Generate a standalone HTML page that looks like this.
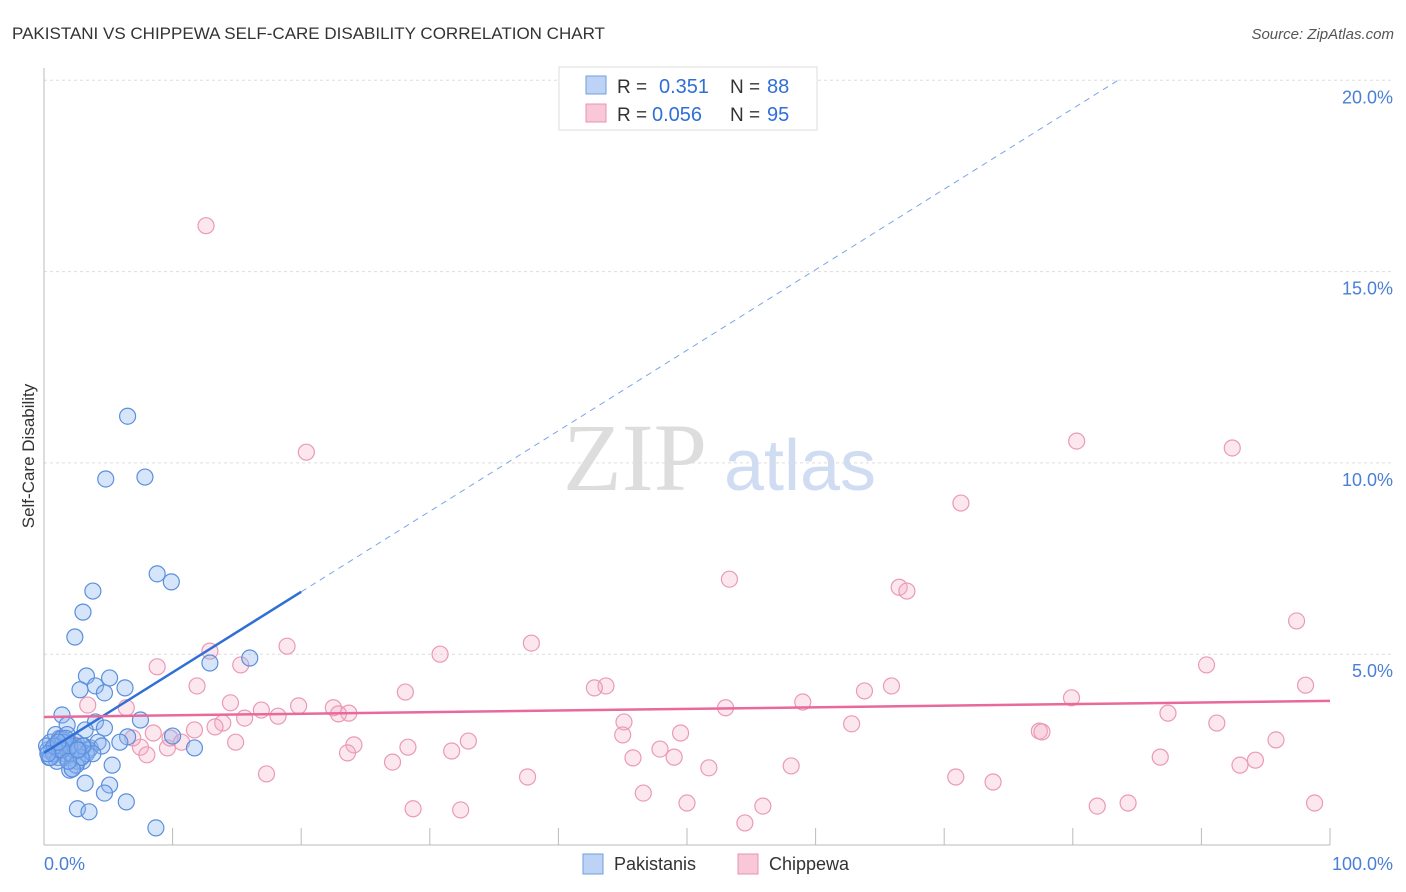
<!DOCTYPE html>
<html><head><meta charset="utf-8"><style>
body{margin:0;background:#fff;font-family:"Liberation Sans",sans-serif;}
</style></head><body>
<svg width="1406" height="892" viewBox="0 0 1406 892" style="display:block">
<text x="12" y="39" font-size="17" fill="#333">PAKISTANI VS CHIPPEWA SELF-CARE DISABILITY CORRELATION CHART</text>
<text x="1394" y="39" font-size="15" fill="#555" font-style="italic" text-anchor="end">Source: ZipAtlas.com</text>
<text x="635" y="490" font-size="96" fill="#ddd" font-family="Liberation Serif" text-anchor="middle">ZIP</text>
<text x="800" y="490" font-size="72" fill="#cfdcf2" text-anchor="middle">atlas</text>
<g id="grid"></g>
<g id="axes"></g>
<g id="points"></g>
<g id="lines"></g>
<text transform="translate(34,456) rotate(-90)" font-size="17" fill="#333" text-anchor="middle">Self-Care Disability</text>
<g>
<rect x="559" y="67" width="258" height="63" fill="#fff" stroke="#ddd"/>
<rect x="586" y="76" width="20" height="18" fill="#bcd3f5" stroke="#6f9de0"/>
<rect x="586" y="104" width="20" height="18" fill="#f9c8d8" stroke="#e893b0"/>
<text x="617" y="93" font-size="19" fill="#333">R =</text>
<text x="659" y="93" font-size="20" fill="#2f6fd6">0.351</text>
<text x="730" y="93" font-size="19" fill="#333">N =</text>
<text x="767" y="93" font-size="20" fill="#2f6fd6">88</text>
<text x="617" y="121" font-size="19" fill="#333">R =</text>
<text x="652" y="121" font-size="20" fill="#2f6fd6">0.056</text>
<text x="730" y="121" font-size="19" fill="#333">N =</text>
<text x="767" y="121" font-size="20" fill="#2f6fd6">95</text>
</g>
<g>
<rect x="583" y="854" width="20" height="20" fill="#bcd3f5" stroke="#6f9de0"/>
<text x="614" y="870" font-size="18" fill="#333">Pakistanis</text>
<rect x="738" y="854" width="20" height="20" fill="#f9c8d8" stroke="#e893b0"/>
<text x="769" y="870" font-size="18" fill="#333">Chippewa</text>
</g>
</svg>
<script>
const yTicks=[5,10,15,20];
const yTickLabels=["5.0%","10.0%","15.0%","20.0%"];
const xTicks=[0,10,20,30,40,50,60,70,80,90,100];
const blueX=[6.5,4.8,7.85,8.8,9.9,3.8,3.03,2.4,12.9,16.0,3.3,5.1,2.8,4.0,4.7,6.3,1.4,7.5,4.0,1.8,3.2,4.7,10.0,6.5,5.9,11.7,3.6,5.3,2.0,3.2,5.1,4.7,6.4,2.6,3.5,8.7,
0.3,0.5,0.8,1.0,1.2,1.5,1.7,2.0,2.2,2.5,2.8,3.0,0.4,0.9,1.3,1.6,1.9,2.3,2.6,3.1,0.6,1.1,1.4,2.1,2.4,2.9,3.5,4.2,0.2,0.7,1.8,2.7,1.0,1.5,2.2,3.3,4.5,0.5,1.2,2.0,1.7,2.5,3.8,0.8,1.4,2.9,1.1,2.2,3.0,0.3,1.9,2.6];
const blueY=[11.22,9.58,9.63,7.1,6.89,6.65,6.1,5.45,4.77,4.9,4.43,4.38,4.07,4.17,3.99,4.12,3.41,3.28,3.23,3.15,3.02,3.07,2.86,2.84,2.7,2.55,2.55,2.1,1.97,1.63,1.58,1.37,1.14,0.96,0.88,0.46,
2.5,2.7,2.4,2.6,2.8,2.5,2.3,2.6,2.4,2.7,2.5,2.2,2.3,2.9,2.6,2.4,2.7,2.5,2.2,2.6,2.5,2.3,2.8,2.4,2.6,2.3,2.5,2.7,2.6,2.4,2.9,2.5,2.2,2.7,2.0,2.4,2.6,2.3,2.5,2.6,2.8,2.1,2.4,2.6,2.5,2.3,2.7,2.0,2.6,2.4,2.2,2.5];
const pinkX=[12.6,20.4,80.3,92.4,71.3,53.3,66.5,67.1,97.4,37.9,18.9,12.9,30.8,8.8,15.3,90.4,98.1,11.9,43.7,42.8,65.9,63.8,28.1,79.9,14.5,59.0,19.8,6.4,16.9,22.5,53.0,87.4,23.7,22.9,18.2,15.6,3.4,13.9,13.3,45.1,62.8,91.2,11.7,8.5,77.4,77.6,45.0,49.5,33.0,14.9,95.8,24.1,28.3,9.6,7.5,47.9,31.7,23.6,8.0,45.8,49.0,86.8,27.1,94.2,93.0,51.7,58.1,17.3,37.6,70.9,73.8,46.6,50.0,55.9,84.3,81.9,98.8,28.7,32.4,54.5,1.2,2.4,9.8,10.7,6.9];
const pinkY=[16.2,10.28,10.57,10.39,8.95,6.96,6.75,6.65,5.87,5.29,5.21,5.08,5.0,4.67,4.72,4.72,4.19,4.17,4.17,4.12,4.17,4.04,4.01,3.86,3.73,3.75,3.65,3.6,3.54,3.6,3.6,3.46,3.46,3.44,3.38,3.33,3.67,3.2,3.1,3.23,3.18,3.2,3.02,2.94,2.99,2.97,2.89,2.94,2.73,2.7,2.76,2.63,2.57,2.55,2.57,2.52,2.47,2.42,2.37,2.29,2.31,2.31,2.18,2.23,2.1,2.03,2.08,1.87,1.79,1.79,1.66,1.37,1.11,1.03,1.11,1.03,1.11,0.96,0.93,0.59,2.76,2.63,2.81,2.7,2.81];
const blueTrend=[2.42,0.2105];
const pinkTrend=[3.36,0.0042];
const NS="http://www.w3.org/2000/svg";
const X=v=>44+v*12.86, Y=v=>845.5-v*38.26;
function mk(t,a,p){const e=document.createElementNS(NS,t);for(const k in a)e.setAttribute(k,a[k]);p.appendChild(e);return e;}
const grid=document.getElementById('grid'),axes=document.getElementById('axes'),pts=document.getElementById('points'),lines=document.getElementById('lines');
yTicks.forEach((v,i)=>{
 const l=mk('line',{x1:44,x2:1394,y1:Y(v),y2:Y(v),stroke:'#ddd','stroke-dasharray':'3,3'},grid);
 
 
 const t=mk('text',{x:1393,y:Y(v)+23,'font-size':18,fill:'#4a7fd6','text-anchor':'end'},axes);
 t.textContent=yTickLabels[i];
 
 
});
mk('line',{x1:44,x2:44,y1:68,y2:845,stroke:'#bbb'},axes);
mk('line',{x1:44,x2:1330,y1:845,y2:845,stroke:'#bbb'},axes);
xTicks.forEach(v=>{const t=mk('line',{x1:X(v),x2:X(v),y1:828,y2:845,stroke:'#bbb'},axes);
 
 });
let a=mk('text',{x:44,y:870,'font-size':18,fill:'#4a7fd6'},axes);a.textContent='0.0%';


a=mk('text',{x:1393,y:870,'font-size':18,fill:'#4a7fd6','text-anchor':'end'},axes);a.textContent='100.0%';


pinkX.forEach((v,i)=>{const c=mk('circle',{cx:X(v),cy:Y(pinkY[i]),r:8,fill:'rgba(246,175,200,0.3)',stroke:'#ea9ab5','stroke-width':1.2},pts);
 
 });
blueX.forEach((v,i)=>{const c=mk('circle',{cx:X(v),cy:Y(blueY[i]),r:8,fill:'rgba(140,180,240,0.35)',stroke:'#5b8fdc','stroke-width':1.2},pts);
 
 });
const bf=x=>blueTrend[0]+blueTrend[1]*x, pf=x=>pinkTrend[0]+pinkTrend[1]*x;
let l=mk('line',{x1:X(0),y1:Y(bf(0)),x2:X(20),y2:Y(bf(20)),stroke:'#2f6fd6','stroke-width':2.5},lines);


const xe=(20-blueTrend[0])/blueTrend[1];
l=mk('line',{x1:X(20),y1:Y(bf(20)),x2:X(xe),y2:Y(20),stroke:'#7aa5e6','stroke-width':1,'stroke-dasharray':'6,5'},lines);


l=mk('line',{x1:X(0),y1:Y(pf(0)),x2:X(100),y2:Y(pf(100)),stroke:'#e8699a','stroke-width':2.5},lines);


</script>
</body></html>
